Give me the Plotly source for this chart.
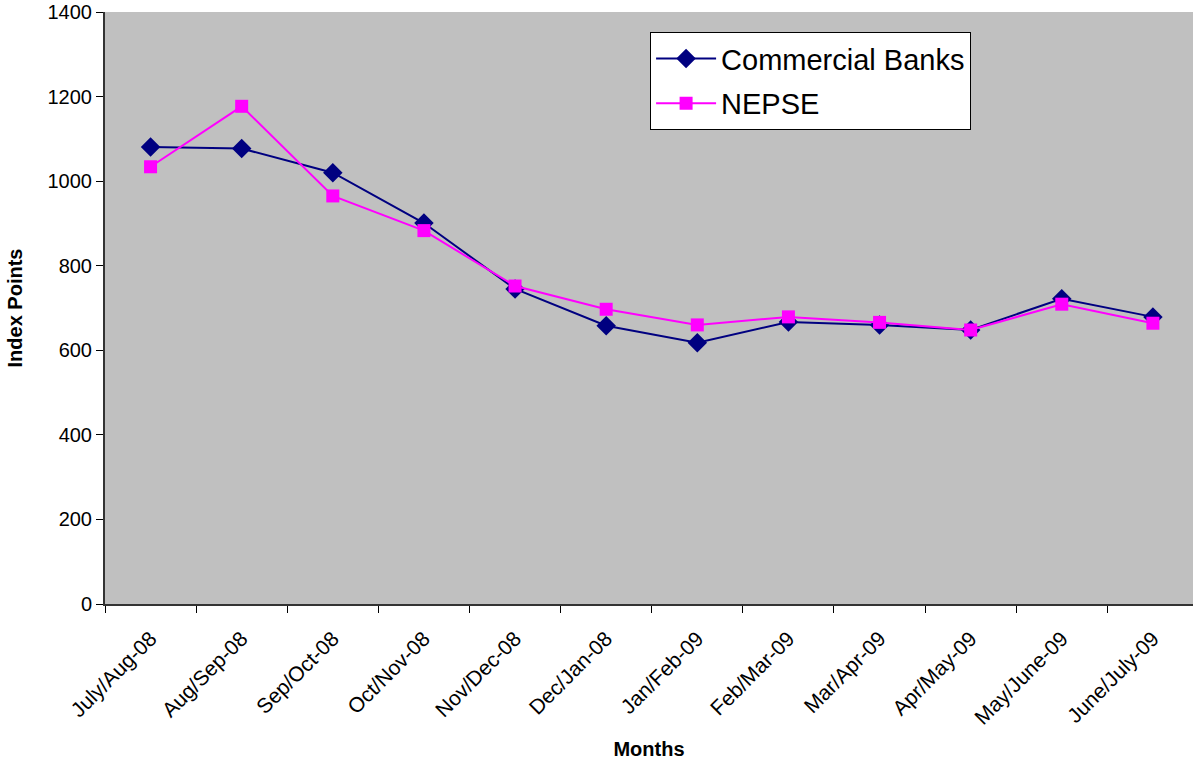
import plotly.graph_objects as go

months = ["July/Aug-08", "Aug/Sep-08", "Sep/Oct-08", "Oct/Nov-08", "Nov/Dec-08", "Dec/Jan-08",
          "Jan/Feb-09", "Feb/Mar-09", "Mar/Apr-09", "Apr/May-09", "May/June-09", "June/July-09"]
commercial_banks = [1081, 1077, 1020, 901, 745, 658, 618, 667, 660, 648, 722, 679]
nepse = [1034, 1177, 965, 883, 752, 697, 660, 679, 666, 648, 709, 664]
y_ticks = [0, 200, 400, 600, 800, 1000, 1200, 1400]

FONT = "Arial, 'Liberation Sans', sans-serif"

fig = go.Figure()
fig.add_trace(go.Scatter(
    x=months, y=commercial_banks, name="Commercial Banks", mode="lines+markers",
    line=dict(color="#000080", width=2),
    marker=dict(symbol="diamond", size=15, color="#000080"),
    legendgroup="a"))
fig.add_trace(go.Scatter(
    x=months, y=nepse, name="NEPSE", mode="lines+markers",
    line=dict(color="#FF00FF", width=2),
    marker=dict(symbol="square", size=13, color="#FF00FF"),
    legendgroup="b"))

fig.update_layout(
    width=1193, height=760,
    margin=dict(l=105, r=0, t=12, b=156),
    paper_bgcolor="white", plot_bgcolor="#C0C0C0",
    font=dict(family=FONT, color="black", size=19),
    showlegend=True,
    legend=dict(x=0.501, y=0.966, xanchor="left", yanchor="top",
                bgcolor="white", bordercolor="black", borderwidth=1,
                font=dict(size=29, family=FONT), tracegroupgap=4,
                itemwidth=60),
    xaxis=dict(type="category", range=[-0.5, 11.44], tickson="boundaries",
               tickangle=-45, ticks="outside", ticklen=7, tickcolor="black",
               showline=True, linecolor="#333333", linewidth=2, showgrid=False,
               tickfont=dict(size=21, family=FONT), ticklabelstandoff=12,
               title=dict(text="<b>Months</b>", font=dict(size=20, family=FONT), standoff=24),
               automargin=False),
    yaxis=dict(range=[0, 1400], tickmode="array", tickvals=y_ticks,
               ticks="outside", ticklen=7, tickcolor="black",
               showline=True, linecolor="#333333", linewidth=2, showgrid=False,
               zeroline=False, tickfont=dict(size=20, family=FONT),
               title=dict(text="<b>Index Points</b>", font=dict(size=20, family=FONT), standoff=20),
               automargin=False),
)

fig.write_html("out.html")
